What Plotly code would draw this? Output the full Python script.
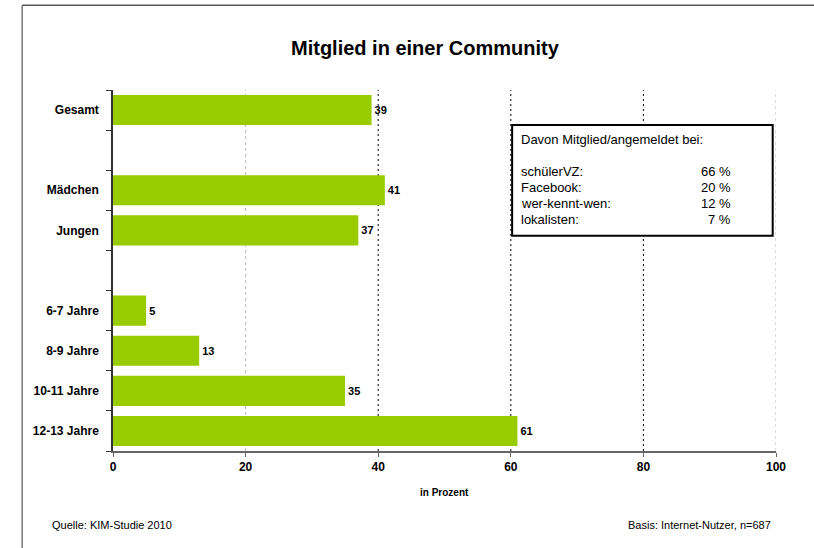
import plotly.graph_objects as go

# Data
categories = ["Gesamt", "", "Mädchen", "Jungen", "", "6-7 Jahre", "8-9 Jahre", "10-11 Jahre", "12-13 Jahre"]
values = [39, None, 41, 37, None, 5, 13, 35, 61]
x_ticks = [0, 20, 40, 60, 80, 100]
grid_light = [20, 100]
grid_dark = [40, 60, 80]
box_title = "Davon Mitglied/angemeldet bei:"
box_names = ["schülerVZ:", "Facebook:", "wer-kennt-wen:", "lokalisten:"]
box_values = ["66 %", "20 %", "12 %", "7 %"]

FONT = "Arial, Liberation Sans, sans-serif"
GREEN = "#99CC00"

pos = list(range(len(categories)))
bar_y = [p for p, v in zip(pos, values) if v is not None]
bar_x = [v for v in values if v is not None]

fig = go.Figure()
fig.add_trace(go.Bar(
    x=bar_x, y=bar_y, orientation="h",
    marker=dict(color=GREEN, line=dict(width=0)),
    texttemplate="<b>%{x}</b>", textposition="outside",
    textfont=dict(family=FONT, size=11, color="#000000"),
    cliponaxis=False, width=0.75, hoverinfo="skip",
))

shapes = []
for g in grid_light:
    shapes.append(dict(type="line", xref="x", yref="paper", x0=g, x1=g, y0=0, y1=1,
                       line=dict(color="#BBBBBB", width=1, dash="3px,3px"), layer="below"))
for g in grid_dark:
    shapes.append(dict(type="line", xref="x", yref="paper", x0=g, x1=g, y0=0, y1=1,
                       line=dict(color="#000000", width=1, dash="2px,3px"), layer="below"))

# outer frame (left and top lines)
shapes.append(dict(type="line", xref="paper", yref="paper", x0=-0.137, x1=-0.137, y0=-0.3, y1=1.235,
                   line=dict(color="#777777", width=1.5)))
shapes.append(dict(type="line", xref="paper", yref="paper", x0=-0.137, x1=1.1, y0=1.235, y1=1.235,
                   line=dict(color="#555555", width=1.5)))

# info box
shapes.append(dict(type="rect", xref="x", yref="paper", x0=60.2, x1=99.5, y0=0.596, y1=0.903,
                   line=dict(color="#000000", width=2), fillcolor="white", layer="above"))

annotations = []
annotations.append(dict(text=box_title, xref="x", yref="paper", x=61.3, y=0.862,
                        xanchor="left", yanchor="middle", showarrow=False,
                        font=dict(family=FONT, size=13, color="#000000")))
row_y = [0.773, 0.730, 0.686, 0.642]
for n, v, yy in zip(box_names, box_values, row_y):
    annotations.append(dict(text=n, xref="x", yref="paper", x=61.3, y=yy, xanchor="left",
                            yanchor="middle", showarrow=False,
                            font=dict(family=FONT, size=13, color="#000000")))
    annotations.append(dict(text=v, xref="x", yref="paper", x=93.5, y=yy, xanchor="right",
                            yanchor="middle", showarrow=False,
                            font=dict(family=FONT, size=13, color="#000000")))

annotations.append(dict(text="<b>in Prozent</b>", xref="paper", yref="paper", x=0.5, y=-0.115,
                        xanchor="center", yanchor="middle", showarrow=False,
                        font=dict(family=FONT, size=10, color="#000000")))
annotations.append(dict(text="Quelle: KIM-Studie 2010", xref="paper", yref="paper", x=-0.095, y=-0.205,
                        xanchor="left", yanchor="middle", showarrow=False,
                        font=dict(family=FONT, size=11, color="#000000")))
annotations.append(dict(text="Basis: Internet-Nutzer, n=687", xref="paper", yref="paper", x=0.995, y=-0.205,
                        xanchor="right", yanchor="middle", showarrow=False,
                        font=dict(family=FONT, size=11, color="#000000")))

fig.update_layout(
    width=814, height=548,
    margin=dict(l=113, r=38, t=90, b=97),
    paper_bgcolor="white", plot_bgcolor="white",
    showlegend=False, hovermode=False,
    title=dict(text="<b>Mitglied in einer Community</b>", x=0.522, xanchor="center",
               y=1 - 48 / 548, yanchor="middle",
               font=dict(family=FONT, size=20, color="#000000")),
    xaxis=dict(range=[0, 100], tickvals=x_ticks, ticktext=[f"<b>{t}</b>" for t in x_ticks],
               showgrid=False, zeroline=False, showline=True, linecolor="#666666", linewidth=2,
               ticks="outside", ticklen=4, tickcolor="#666666", tickwidth=1,
               tickfont=dict(family=FONT, size=12, color="#000000")),
    yaxis=dict(range=[len(categories) - 0.5, -0.5], tickvals=pos,
               ticktext=[f"<b>{c}</b>" if c else "" for c in categories],
               showgrid=False, zeroline=False, showline=True, linecolor="#333333", linewidth=1.5,
               ticks="", ticklabelstandoff=10,
               minor=dict(tickmode="array", tickvals=[p - 0.5 for p in pos] + [len(pos) - 0.5],
                          ticks="outside", ticklen=5, tickcolor="#333333", showgrid=False),
               tickfont=dict(family=FONT, size=12, color="#000000")),
    shapes=shapes, annotations=annotations,
)

fig.write_html("out.html", config={"displayModeBar": False},
               post_script="document.body.style.margin='0';document.body.style.overflow='hidden';")
